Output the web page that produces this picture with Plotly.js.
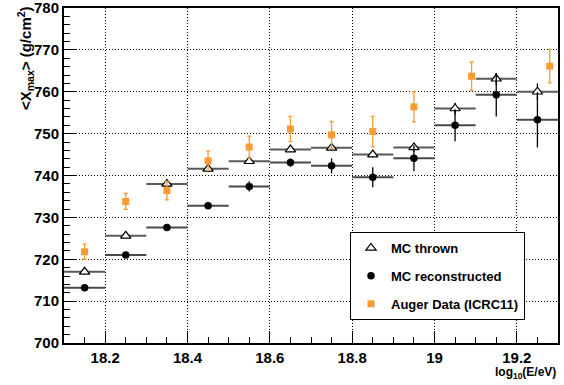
<!DOCTYPE html>
<html>
<head>
<meta charset="utf-8">
<script src="https://cdn.plot.ly/plotly-3.0.1.min.js"></script>
<style>html,body{margin:0;padding:0;background:#fff;}#chart{width:564px;height:385px;}</style>
</head>
<body>
<div id="chart"></div>
<script>
// Bin centres of log10(E/eV)
const binCenters = [18.15, 18.25, 18.35, 18.45, 18.55, 18.65, 18.75, 18.85, 18.95, 19.05, 19.15, 19.25];
const binHalfWidth = 0.05;

// MC thrown <Xmax>
const thrownXmax = [717.0, 725.6, 738.0, 741.6, 743.4, 746.2, 746.6, 745.0, 746.7, 756.0, 763.1, 760.0];
const thrownErr  = [0.3, 0.3, 0.4, 0.4, 0.5, 0.5, 0.6, 0.7, 0.9, 1.4, 1.4, 2.0];

// MC reconstructed <Xmax>
const recoXmax = [713.2, 721.0, 727.6, 732.8, 737.4, 743.1, 742.3, 739.6, 744.1, 752.0, 759.3, 753.3];
const recoErr  = [0.5, 0.5, 0.5, 0.7, 1.2, 1.0, 1.8, 2.4, 3.1, 3.8, 5.2, 6.6];

// Auger data (ICRC11)
const augerLogE = [18.15, 18.25, 18.35, 18.45, 18.55, 18.65, 18.75, 18.85, 18.95, 19.09, 19.28];
const augerXmax = [721.8, 733.8, 736.4, 743.5, 746.8, 751.1, 749.7, 750.5, 756.4, 763.7, 766.1];
const augerErr  = [1.8, 1.9, 2.2, 2.3, 2.6, 3.0, 3.2, 3.6, 3.6, 3.4, 4.0];

const xTickVals = [18.2, 18.4, 18.6, 18.8, 19.0, 19.2];
const xTickText = ['18.2', '18.4', '18.6', '18.8', '19', '19.2'];
const yTickVals = [700, 710, 720, 730, 740, 750, 760, 770, 780];
const yTickText = ['700', '710', '720', '730', '740', '750', '760', '770', '780'];

const FONT = 'Liberation Sans, Arial, Helvetica, sans-serif';
const orange = '#F99B35';
const bold = s => '<b>' + s + '</b>';

const traces = [
  {
    x: binCenters, y: thrownXmax, type: 'scatter', mode: 'markers',
    name: 'MC thrown', legendgroup: 'a',
    marker: {symbol: 'triangle-up', size: 9, color: '#fff', line: {color: '#000', width: 1.2}},
    error_x: {type: 'constant', value: binHalfWidth, color: '#5a5a5a', thickness: 2, width: 0},
    error_y: {type: 'data', array: thrownErr, color: '#000', thickness: 1.3, width: 0}
  },
  {
    x: binCenters, y: recoXmax, type: 'scatter', mode: 'markers',
    name: 'MC reconstructed', legendgroup: 'b',
    marker: {symbol: 'circle', size: 7.5, color: '#000'},
    error_x: {type: 'constant', value: binHalfWidth, color: '#4a4a4a', thickness: 2, width: 0},
    error_y: {type: 'data', array: recoErr, color: '#000', thickness: 1.3, width: 0}
  },
  {
    x: augerLogE, y: augerXmax, type: 'scatter', mode: 'markers',
    name: 'Auger Data (ICRC11)', legendgroup: 'c',
    marker: {symbol: 'square', size: 7, color: orange},
    error_y: {type: 'data', array: augerErr, color: orange, thickness: 1.3, width: 2}
  }
];

const axisCommon = {
  showline: true, linecolor: '#000', linewidth: 2, mirror: true,
  ticks: 'inside', ticklen: 12, tickwidth: 1, tickcolor: '#000',
  showgrid: true, gridcolor: '#000', gridwidth: 1, griddash: '1px,2px',
  zeroline: false, ticklabeloverflow: 'allow',
  tickfont: {family: FONT, size: 15, color: '#000', weight: 'bold'}
};

const layout = {
  width: 564, height: 385,
  margin: {l: 64, r: 6, t: 8, b: 42},
  paper_bgcolor: '#fff', plot_bgcolor: '#fff',
  font: {family: FONT, color: '#000', weight: 'bold'},
  showlegend: true,
  xaxis: Object.assign({}, axisCommon, {
    range: [18.1, 19.3], tickmode: 'array', tickvals: xTickVals, ticktext: xTickText.map(bold),
    minor: {dtick: 0.05, tick0: 18.1, ticks: 'inside', ticklen: 6, tickcolor: '#000', showgrid: false}
  }),
  yaxis: Object.assign({}, axisCommon, {
    range: [700, 780], tickmode: 'array', tickvals: yTickVals, ticktext: yTickText.map(bold),
    minor: {dtick: 2, tick0: 700, ticks: 'inside', ticklen: 6, tickcolor: '#000', showgrid: false}
  }),
  legend: {
    x: (350 - 64) / 494, y: 1 - (232 - 8) / 335, xanchor: 'left', yanchor: 'top',
    bgcolor: '#fff', bordercolor: '#000', borderwidth: 1,
    font: {family: FONT, size: 13, color: '#000', weight: 'bold'},
    traceorder: 'grouped', tracegroupgap: 8
  },
  annotations: [
    {
      xref: 'paper', yref: 'paper', x: 1, y: 0, xanchor: 'right', yanchor: 'top',
      yshift: -20, showarrow: false,
      text: bold('log<sub>10</sub>(E/eV)'),
      font: {family: FONT, size: 12, color: '#000', weight: 'bold'}
    },
    {
      xref: 'paper', yref: 'paper', x: (26 - 64) / 494, y: 1 - (58 - 8) / 335,
      xanchor: 'center', yanchor: 'middle',
      showarrow: false, textangle: -90,
      text: bold('&lt;X<sub>max</sub>&gt; (g/cm<sup>2</sup>)'),
      font: {family: FONT, size: 15, color: '#000', weight: 'bold'}
    }
  ]
};

Plotly.newPlot('chart', traces, layout, {displayModeBar: false, staticPlot: true});
</script>
</body>
</html>
